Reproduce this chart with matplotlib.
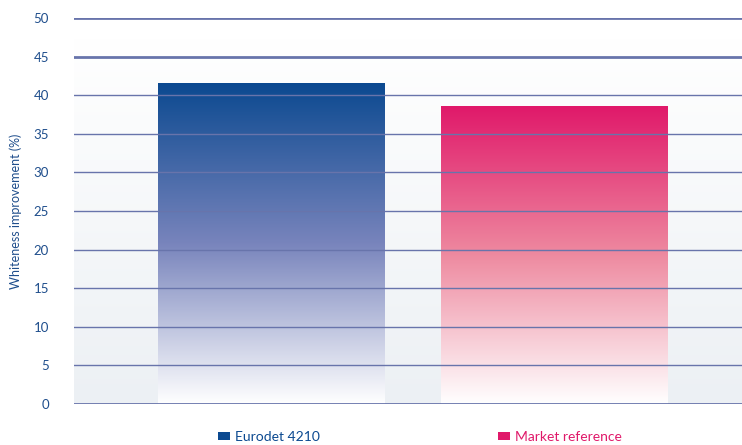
import numpy as np
import matplotlib
matplotlib.use("Agg")
import matplotlib.pyplot as plt
from matplotlib.colors import LinearSegmentedColormap
from matplotlib.patches import Patch

categories = ["Eurodet 4210", "Market reference"]
values = [41.6, 38.6]
top_colors = ["#0b4990", "#e0196a"]
mid_colors = ["#7884bc", "#ee8aa0"]
yticks = [0, 5, 10, 15, 20, 25, 30, 35, 40, 45, 50]
ylabel = "Whiteness improvement (%)"

plt.rcParams['font.family'] = ['Lato', 'DejaVu Sans']
fig = plt.figure(figsize=(7.42, 4.45), dpi=100)
ax = fig.add_axes([74/742, 41/445, 668/742, 386/445])

x = np.arange(len(categories))
xlim = (-0.695, 1.661)
ax.set_xlim(*xlim)
ax.set_ylim(0, 50)

# background gradient
grad = np.linspace(0, 1, 256).reshape(-1, 1)
bg_cmap = LinearSegmentedColormap.from_list("bg", ["#ecf0f4", "#ffffff"])
ax.imshow(grad, extent=[xlim[0], xlim[1], 0, 47.3], origin="lower", aspect="auto",
          cmap=bg_cmap, zorder=0.5)

bars = ax.bar(x, values, width=0.80, color="none", edgecolor="none", zorder=1)
for b, tc, mc in zip(bars, top_colors, mid_colors):
    cmap = LinearSegmentedColormap.from_list("g", [(0, "#ffffff"), (0.5, mc), (1, tc)])
    x0, y0 = b.get_x(), b.get_y()
    w, h = b.get_width(), b.get_height()
    im = ax.imshow(grad, extent=[x0, x0 + w, y0, y0 + h], origin="lower", aspect="auto",
                   cmap=cmap, zorder=1.5)
    im.set_clip_path(b)

ax.set_xlim(*xlim)
ax.set_ylim(0, 50)

for yv in yticks:
    lw = 2.0 if yv in (0, 45, 50) else 1.0
    ax.axhline(yv, color="#6874ab", lw=lw, zorder=3)

for s in ax.spines.values():
    s.set_visible(False)
ax.set_xticks([])
ax.set_yticks(yticks)
ax.tick_params(axis="y", length=0, pad=18, labelsize=9.5, labelcolor="#1f4e8c")
ax.set_ylabel(ylabel, color="#1f4e8c", fontsize=9)
ax.yaxis.set_label_coords((22 - 74) / 668, 0.5)

handles = [Patch(facecolor=c, edgecolor="none") for c in top_colors]
leg = fig.legend(handles, categories, loc="lower left", bbox_to_anchor=(205/742, -0.024),
                 ncol=2, frameon=False, fontsize=10, handlelength=0.9, handleheight=0.45,
                 handletextpad=0.35, columnspacing=12.8)
for t, c in zip(leg.get_texts(), top_colors):
    t.set_color(c)

fig.savefig("out.png", dpi=100)
